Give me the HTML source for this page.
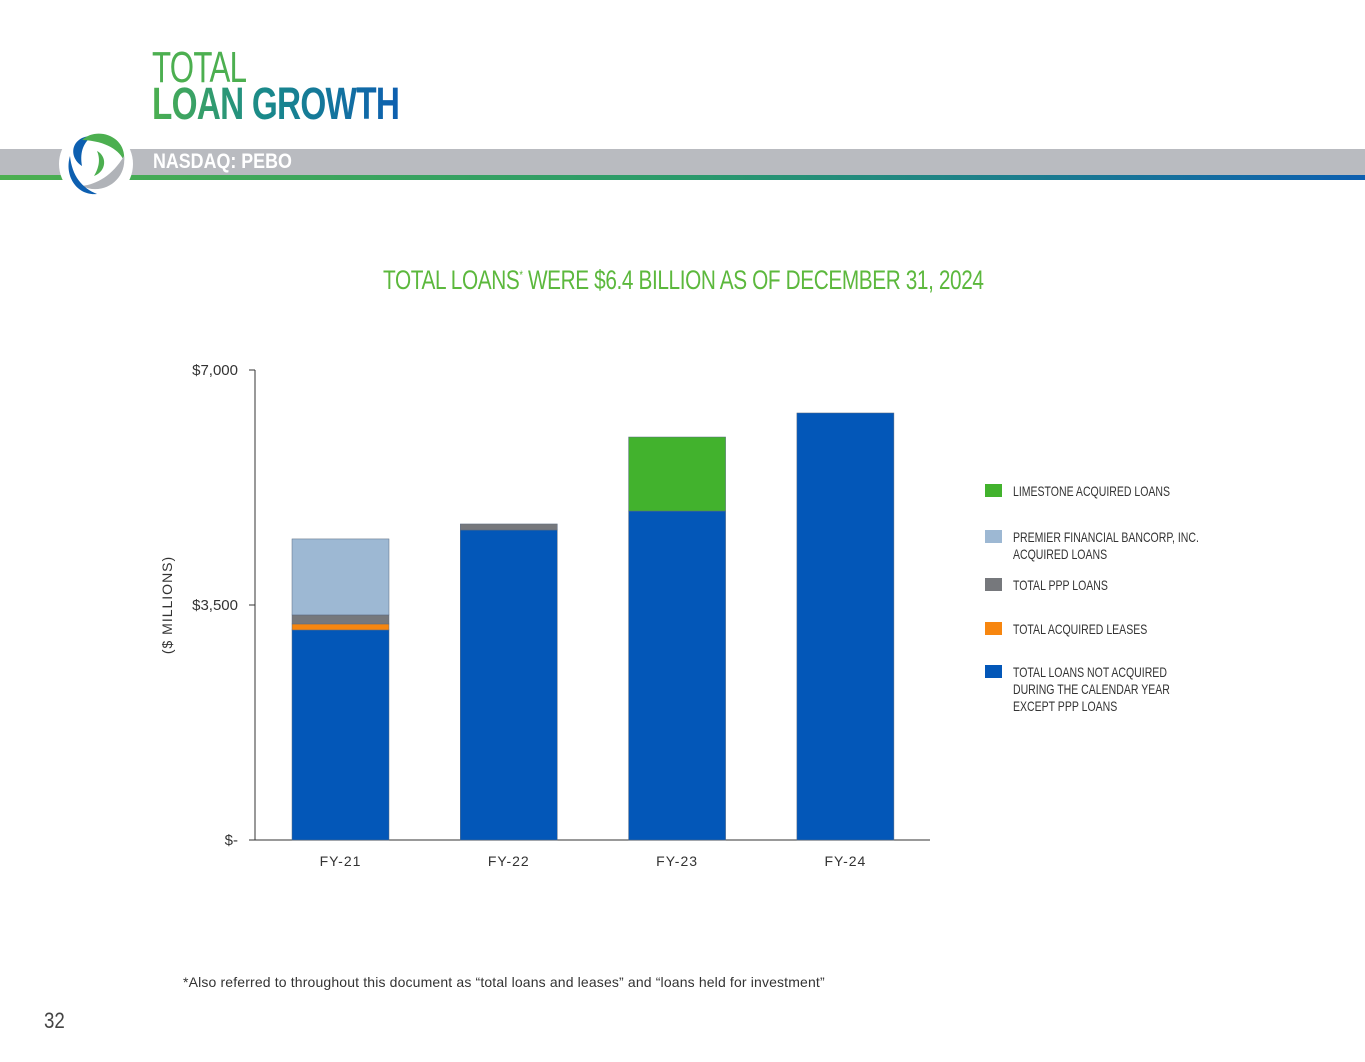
<!DOCTYPE html>
<html><head><meta charset="utf-8"><style>
body{margin:0;width:1365px;height:1062px;background:#fff;position:relative;overflow:hidden;font-family:"Liberation Sans",sans-serif}
.abs{position:absolute}
</style></head><body>
<div class="abs" style="left:152px;top:44px;font-size:44px;color:#4caf50;letter-spacing:-1px;line-height:48px;transform:scaleX(0.71);transform-origin:0 0">TOTAL</div>
<div class="abs" style="left:152px;top:80px;font-size:45px;font-weight:bold;line-height:48px;letter-spacing:-1px;transform:scaleX(0.74);transform-origin:0 0;background:linear-gradient(90deg,#4caf50,#1a8a8a 45%,#0d5fb0);-webkit-background-clip:text;color:transparent">LOAN GROWTH</div>
<div class="abs" style="left:0;top:149px;width:1365px;height:26px;background:#b9bbc0"></div>
<div class="abs" style="left:0;top:175px;width:1365px;height:5px;background:linear-gradient(90deg,#4caf50,#2a9a6a 50%,#0d5fb0)"></div>
<div class="abs" style="left:153px;top:150px;font-size:21px;font-weight:bold;color:#fff;transform:scaleX(0.85);transform-origin:0 0">NASDAQ: PEBO</div>
<svg class="abs" style="left:52px;top:126px" width="90" height="76" viewBox="0 0 90 76">
<circle cx="44" cy="38" r="37" fill="#fff"/>
<path d="M30 40 C15 30 20 10 40 10 C30 18 28 28 30 40Z" fill="#0d5fb0"/>
<path d="M30 14 C45 0 75 10 72 35 C68 25 55 15 30 14Z" fill="#4caf50"/>
<path d="M72 30 C75 55 50 70 30 60 C45 58 60 50 72 30Z" fill="#b0b3b8"/>
<path d="M18 30 C12 50 25 70 45 68 C30 62 20 50 18 30Z" fill="#0d5fb0"/>
<path d="M45 25 C55 30 55 45 42 50 C48 40 48 32 45 25Z" fill="#4caf50"/>
</svg>
<div class="abs" style="left:383px;top:265px;white-space:nowrap;font-size:27px;color:#5cb83d;letter-spacing:-0.5px;transform:scaleX(0.77);transform-origin:0 0">TOTAL LOANS<sup style="font-size:12px">*</sup> WERE $6.4 BILLION AS OF DECEMBER 31, 2024</div>
<svg class="abs" id="chart" style="left:0;top:0" width="1365" height="1062"></svg>
<div class="abs" style="left:183px;top:974px;font-size:14px;letter-spacing:0.15px;color:#333">*Also referred to throughout this document as “total loans and leases” and “loans held for investment”</div>
<div class="abs" style="left:44px;top:1008px;font-size:22px;color:#444;transform:scaleX(0.85);transform-origin:0 0">32</div>
<script>
const categories=["FY-21","FY-22","FY-23","FY-24"];
const notAcquired=[3128,4617,4900,6360];
const acquiredLeases=[90,0,0,0];
const pppLoans=[134,90,0,0];
const premierAcquired=[1132,0,0,0];
const limestoneAcquired=[0,0,1102,0];
const yTicks=[0,3500,7000];
const yTickLabels=["$-","$3,500","$7,000"];
const series=[
 {name:"TOTAL LOANS NOT ACQUIRED DURING THE CALENDAR YEAR EXCEPT PPP LOANS",vals:notAcquired,color:"#0357b8",key:"not-acquired"},
 {name:"TOTAL ACQUIRED LEASES",vals:acquiredLeases,color:"#f7860f",key:"acquired-leases"},
 {name:"TOTAL PPP LOANS",vals:pppLoans,color:"#76787c",key:"ppp"},
 {name:"PREMIER FINANCIAL BANCORP, INC. ACQUIRED LOANS",vals:premierAcquired,color:"#9db8d3",key:"premier"},
 {name:"LIMESTONE ACQUIRED LOANS",vals:limestoneAcquired,color:"#42b22d",key:"limestone"}
];
const NS="http://www.w3.org/2000/svg";
const svg=document.getElementById("chart");
const y0=840,yTop=370,yMax=7000;
const y=v=>y0-(v/yMax)*(y0-yTop);
const x=i=>292+i*168.3;
const bw=97;
function mk(t,a){const e=document.createElementNS(NS,t);for(const k in a)e.setAttribute(k,a[k]);svg.appendChild(e);return e;}
let ax=mk("line",{x1:255,y1:370,x2:255,y2:840,stroke:"#333","stroke-width":1});


let bx=mk("line",{x1:255,y1:840,x2:930,y2:840,stroke:"#333","stroke-width":1});


yTicks.forEach((v,i)=>{
 let tk=mk("line",{x1:249,y1:y(v),x2:255,y2:y(v),stroke:"#333"});
 
 
 let t=mk("text",{x:238,y:y(v)+5,"text-anchor":"end","font-size":15,fill:"#333","font-family":"Liberation Sans"});
 t.textContent=yTickLabels[i];
 
 
});
let yt=mk("text",{x:0,y:0,transform:"translate(172,605) rotate(-90)","text-anchor":"middle","font-size":14,fill:"#333","letter-spacing":"1","font-family":"Liberation Sans"});
yt.textContent="($ MILLIONS)";


categories.forEach((c,i)=>{
 let acc=0;
 series.forEach(s=>{
  const v=s.vals[i];if(!v)return;
  let r=mk("rect",{x:x(i),y:y(acc+v),width:bw,height:y(acc)-y(acc+v),fill:s.color,stroke:"#5a6a80","stroke-width":0.5});
  
  
  acc+=v;
 });
 let t=mk("text",{x:x(i)+bw/2,y:866,"text-anchor":"middle","font-size":14,fill:"#333","letter-spacing":"1","font-family":"Liberation Sans"});
 t.textContent=c;
 
 
});
const legendOrder=[4,3,2,1,0];
const legendY=[491,537,585,629,672];
const legendLines=[["LIMESTONE ACQUIRED LOANS"],["PREMIER FINANCIAL BANCORP, INC."," ACQUIRED LOANS"],["TOTAL PPP LOANS"],["TOTAL ACQUIRED LEASES"],["TOTAL LOANS NOT ACQUIRED","DURING THE CALENDAR YEAR","EXCEPT PPP LOANS"]];
legendOrder.forEach((si,k)=>{
 const s=series[si];
 let r=mk("rect",{x:985,y:legendY[k]-7,width:17,height:13,fill:s.color});
 
 
 legendLines[k].forEach((ln,j)=>{
  let t=mk("text",{x:1013,y:legendY[k]+5+j*17,"font-size":13.5,fill:"#333","font-family":"Liberation Sans",transform:"translate(1013,0) scale(0.78,1) translate(-1013,0)"});
  t.setAttribute("xml:space","preserve");
  t.textContent=ln;
  
  
 });
});
</script>
</body></html>
